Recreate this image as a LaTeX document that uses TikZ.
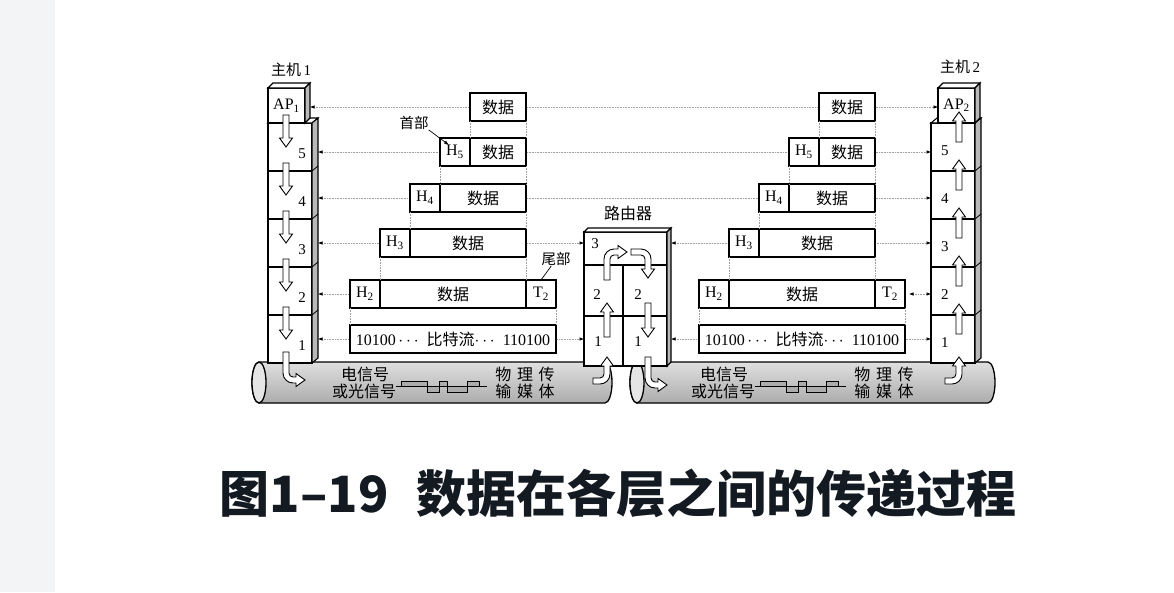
\documentclass[tikz,border=0pt]{standalone}
\usepackage{fontspec}
\setmainfont{Liberation Serif}
\newfontfamily\cjk{Noto Sans CJK SC}
\usepackage{tikz}
\usetikzlibrary{arrows.meta,positioning,calc,backgrounds}

\definecolor{strip}{HTML}{F3F4F6}
\definecolor{ink}{HTML}{141A22}

\begin{document}
\begin{tikzpicture}[
    x=1pt, y=-1pt,
    face/.style={draw, line width=1.1pt, fill=white, inner sep=0pt, outer sep=0pt},
    side/.style={draw, line width=1.1pt, fill=gray!55},
    cell/.style={draw, line width=1.3pt, fill=white, minimum height=28pt, inner sep=0pt, outer sep=0pt, font=\fontsize{16}{18}\selectfont},
    num/.style={inner sep=0pt, font=\fontsize{15}{17}\selectfont},
    lbl/.style={inner sep=0pt, font=\fontsize{15}{17}\selectfont},
    txt/.style={inner sep=0pt, font=\cjk\fontsize{16}{18}\selectfont},
    note/.style={inner sep=0pt, font=\cjk\fontsize{14.5}{16}\selectfont},
    guide/.style={draw=gray!75, line width=0.6pt, densely dotted},
    link/.style={guide, {Latex[length=4.5pt,width=3.5pt,color=black]}-{Latex[length=4.5pt,width=3.5pt,color=black]}},
    hollow/.style={draw, line width=0.9pt, fill=white},
    pipe/.style={draw, line width=1.3pt},
]
\useasboundingbox (0,0) rectangle (1174,592);

% host 1
\foreach \n [count=\i from 0] in {5,4,3,2,1}
    \node[face, minimum width=44pt, minimum height=48pt] (L\n) at (290,147+48*\i) {};
\draw[face] (L5.north west) -- ++(6,-5) -- ++(44,0) -- (L5.north east) -- cycle;
\draw[side] (L5.north east) -- ++(6,-5) -- ($(L1.south east)+(6,-5)$) -- (L1.south east) -- cycle;
\foreach \n in {5,4,3,2}
    \draw[line width=0.8pt] (L\n.south east) -- ++(6,-5);
\node[face, minimum width=37pt, minimum height=35pt, font=\fontsize{16}{18}\selectfont] (AP1) at (286.5,105.5) {\raisebox{-4pt}{AP\textsubscript{1}}};
\draw[face] (AP1.north west) -- ++(5,-5) -- ++(37,0) -- (AP1.north east) -- cycle;
\draw[side] (AP1.north east) -- ++(5,-5) -- ++(0,35) -- (AP1.south east) -- cycle;
\foreach \n in {5,4,3,2,1}
    \node[num, left=6pt of L\n.east, yshift=-7pt] {\n};
\node[lbl] (host1) at (291,70) {{\cjk 主机}\,1};

% host 2
\foreach \n [count=\i from 0] in {5,4,3,2,1}
    \node[face, minimum width=44pt, minimum height=48pt] (R\n) at (953,147+48*\i) {};
\draw[face] (R5.north west) -- ++(6,-5) -- ++(44,0) -- (R5.north east) -- cycle;
\draw[side] (R5.north east) -- ++(6,-5) -- ($(R1.south east)+(6,-5)$) -- (R1.south east) -- cycle;
\foreach \n in {5,4,3,2}
    \draw[line width=0.8pt] (R\n.south east) -- ++(6,-5);
\node[face, minimum width=37pt, minimum height=35pt, font=\fontsize{16}{18}\selectfont] (AP2) at (956.5,105.5) {\raisebox{3pt}{AP\textsubscript{2}}};
\draw[face] (AP2.north west) -- ++(5,-5) -- ++(37,0) -- (AP2.north east) -- cycle;
\draw[side] (AP2.north east) -- ++(5,-5) -- ++(0,35) -- (AP2.south east) -- cycle;
\foreach \n in {5,4,3,2,1}
    \node[num, right=10pt of R\n.west, yshift=-4pt] {\n};
\node[lbl] (host2) at (960,67) {{\cjk 主机}\,2};

% router
\node[face, minimum width=83pt, minimum height=33pt] (T3) at (625.5,248.5) {};
\node[face, minimum width=39pt, minimum height=51pt, anchor=north west] (T2a) at (T3.south west) {};
\node[face, minimum width=44pt, minimum height=51pt, anchor=north west] (T2b) at (T2a.north east) {};
\node[face, minimum width=39pt, minimum height=50pt, anchor=north west] (T1a) at (T2a.south west) {};
\node[face, minimum width=44pt, minimum height=50pt, anchor=north west] (T1b) at (T1a.north east) {};
\draw[face] (T3.north west) -- ++(4,-4) -- ++(83,0) -- (T3.north east) -- cycle;
\draw[side] (T3.north east) -- ++(4,-4) -- ($(T1b.south east)+(4,-4)$) -- (T1b.south east) -- cycle;
\node[num] at ([xshift=11pt,yshift=5pt]T3.west) {3};
\node[num] at ([xshift=13pt,yshift=-4pt]T2a.west) {2};
\node[num] at ([xshift=15pt,yshift=-4pt]T2b.west) {2};
\node[num] at ([xshift=14pt,yshift=-1pt]T1a.west) {1};
\node[num] at ([xshift=15pt,yshift=-1pt]T1b.west) {1};
\node[txt] (rt) at (628,213) {路由器};

% data units
\foreach \s/\p in {0/a, 349/b} {
    \node[cell, minimum width=56pt] (D0\p) at (498+\s,107) {\cjk 数据};
    \node[cell, minimum width=30pt] (H5\p) at (455+\s,152) {H\textsubscript{5}};
    \node[cell, minimum width=56pt, right=0pt of H5\p] (D5\p) {\cjk 数据};
    \node[cell, minimum width=30pt] (H4\p) at (425+\s,198) {H\textsubscript{4}};
    \node[cell, minimum width=86pt, right=0pt of H4\p] (D4\p) {\cjk 数据};
    \node[cell, minimum width=30pt] (H3\p) at (395+\s,243) {H\textsubscript{3}};
    \node[cell, minimum width=116pt, right=0pt of H3\p] (D3\p) {\cjk 数据};
    \node[cell, minimum width=30pt] (H2\p) at (365+\s,294) {H\textsubscript{2}};
    \node[cell, minimum width=146pt, right=0pt of H2\p] (D2\p) {\cjk 数据};
    \node[cell, minimum width=30pt, right=0pt of D2\p] (T2\p) {T\textsubscript{2}};
    \node[cell, minimum width=206pt] (D1\p) at (453+\s,339) {10100\,$\cdots$\enspace{\cjk 比特流}$\cdots$\enspace110100};

    \draw[guide] (D0\p.south west) -- (H5\p.north east);
    \draw[guide] (D0\p.south east) -- (D5\p.north east);
    \draw[guide] (H5\p.south west) -- (H4\p.north east);
    \draw[guide] (D5\p.south east) -- (D4\p.north east);
    \draw[guide] (H4\p.south west) -- (H3\p.north east);
    \draw[guide] (D4\p.south east) -- (D3\p.north east);
    \draw[guide] (H3\p.south west) -- (H2\p.north east);
    \draw[guide] (D3\p.south east) -- (D2\p.north east);
    \draw[guide] (H2\p.south west) -- (D1\p.north west);
    \draw[guide] (T2\p.south east) -- (D1\p.north east);
}

\node[note] (hd) at (414,123) {首部};
\draw[-{Latex[length=5pt,width=3.5pt]}, line width=0.7pt] (hd.south east) -- ([xshift=9pt,yshift=-7pt]H5a.north west);
\node[note] (tl) at (556,259) {尾部};
\draw[line width=0.7pt] ([xshift=10pt]tl.south west) -- (T2a.north);

% hollow arrows, host 1 down
\foreach \b in {123,171,219,267,315}
    \draw[hollow] (283,\b-8) -- (283,\b+15) -- (279.5,\b+15) -- (286,\b+24) -- (292.5,\b+15) -- (289,\b+15) -- (289,\b-8) -- cycle;
% host 2 up
\foreach \b in {123,171,219,267,315}
    \draw[hollow] (956,\b+19) -- (956,\b-2) -- (952.5,\b-2) -- (959,\b-11) -- (965.5,\b-2) -- (962,\b-2) -- (962,\b+19) -- cycle;
% down then right
\foreach \dx/\dy in {0/0, 362/5}
    \draw[hollow, shift={(\dx,\dy)}] (283,352) -- (283,373) arc[start angle=180, end angle=90, radius=10] -- (296,383) -- (296,386.5) -- (305,380) -- (296,373.5) -- (296,377) -- (293,377) arc[start angle=90, end angle=180, radius=4] -- (289,352) -- cycle;
% right then up
\foreach \dx in {0,-352}
    \draw[hollow, shift={(\dx,0)}] (945,378) -- (952,378) arc[start angle=90, end angle=0, radius=4] -- (956,366) -- (952.5,366) -- (959,357) -- (965.5,366) -- (962,366) -- (962,374) arc[start angle=0, end angle=90, radius=10] -- (945,384) -- cycle;
% router
\draw[hollow] (604,337) -- (604,312) -- (600.5,312) -- (607,303) -- (613.5,312) -- (610,312) -- (610,337) -- cycle;
\draw[hollow] (645,303) -- (645,328) -- (641.5,328) -- (648,337) -- (654.5,328) -- (651,328) -- (651,303) -- cycle;
\draw[hollow] (604,280) -- (604,259) arc[start angle=180, end angle=270, radius=10] -- (618,249) -- (618,245.5) -- (627,252) -- (618,258.5) -- (618,255) -- (614,255) arc[start angle=270, end angle=180, radius=4] -- (610,280) -- cycle;
\draw[hollow] (631,249) -- (641,249) arc[start angle=270, end angle=360, radius=10] -- (651,269) -- (654.5,269) -- (648,278) -- (641.5,269) -- (645,269) -- (645,259) arc[start angle=0, end angle=-90, radius=4] -- (631,255) -- cycle;

\begin{scope}[on background layer]
    \fill[strip] (0,0) rectangle (55,592);
    \fill[white] (55,0) rectangle (1174,592);
    % media
    \foreach \a/\b in {259/605, 637/988} {
        \shade[top color=gray!25, bottom color=gray!65] (\a,362) -- (\b,362) arc[start angle=-90, end angle=90, x radius=7, y radius=20.5] -- (\a,403) arc[start angle=90, end angle=270, x radius=7, y radius=20.5] -- cycle;
        \draw[pipe] (\a,362) -- (\b,362) arc[start angle=-90, end angle=90, x radius=7, y radius=20.5] -- (\a,403) arc[start angle=90, end angle=270, x radius=7, y radius=20.5] -- cycle;
        \draw[pipe, fill=gray!20] (\a,382.5) ellipse[x radius=7, y radius=20.5];
    }
    \foreach \s in {0,359} {
        \node[txt] at (365+\s,374) {电信号};
        \node[txt] at (364+\s,391.5) {或光信号};
        \node[txt] at (525+\s,374) {物\hspace{0.35em}理\hspace{0.35em}传};
        \node[txt] at (525+\s,391.5) {输\hspace{0.35em}媒\hspace{0.35em}体};
        \draw[line width=0.9pt, fill=gray!65] (401+\s,386.5) rectangle (427+\s,381) (427+\s,386.5) rectangle (439+\s,392) (439+\s,386.5) rectangle (447+\s,381) (447+\s,386.5) rectangle (467+\s,392) (467+\s,386.5) rectangle (479+\s,381);
        \draw[line width=0.9pt] (396+\s,386.5) -- (487+\s,386.5);
    }
    % peer links
    \draw[link] ($(D0a -| AP1.east)+(5,0)$) -- (D0a -| AP2.west);
    \draw[link] ($(D5a -| L5.east)+(6,0)$) -- (D5a -| R5.west);
    \draw[link] ($(D4a -| L4.east)+(6,0)$) -- (D4a -| R4.west);
    \draw[link] ($(D3a -| L3.east)+(6,0)$) -- (D3a -| T3.west);
    \draw[link] ($(D2a -| L2.east)+(6,0)$) -- (D2a -| T2a.west);
    \draw[link] ($(D1a -| L1.east)+(6,0)$) -- (D1a -| T1a.west);
    \draw[link] ($(D3b -| T3.east)+(4,0)$) -- (D3b -| R3.west);
    \draw[link] ($(D2b -| T2b.east)+(4,0)$) -- (D2b -| R2.west);
    \draw[link] ($(D1b -| T1b.east)+(4,0)$) -- (D1b -| R1.west);
\end{scope}

\node[text=ink, inner sep=0pt, font=\cjk\bfseries\fontsize{50}{56}\selectfont] (title) at (618,493) {图1–19\hspace{0.55em}数据在各层之间的传递过程};
\end{tikzpicture}
\end{document}
